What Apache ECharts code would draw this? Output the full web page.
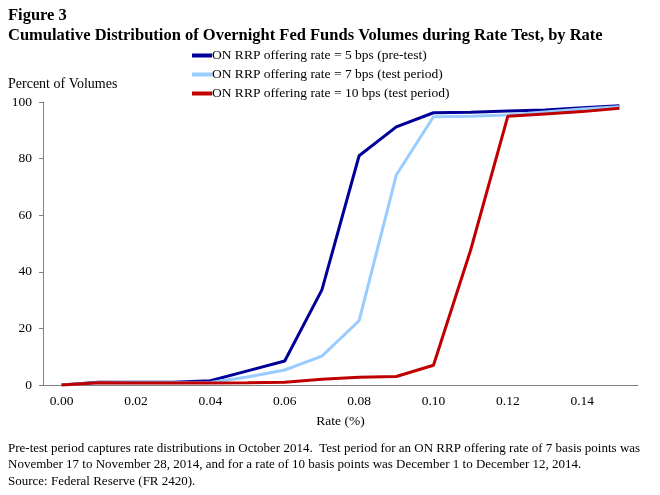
<!DOCTYPE html>
<html>
<head>
<meta charset="utf-8">
<script src="https://cdn.jsdelivr.net/npm/echarts@6/dist/echarts.min.js"></script>
<style>html,body{margin:0;padding:0;background:#fff;}#c{width:660px;height:495px;}</style>
</head>
<body>
<div id="c"></div>
<script>
const categories = ['0.00','0.01','0.02','0.03','0.04','0.05','0.06','0.07','0.08','0.09','0.10','0.11','0.12','0.13','0.14','0.15'];
const seriesNames = ['ON RRP offering rate = 5 bps (pre-test)','ON RRP offering rate = 7 bps (test period)','ON RRP offering rate = 10 bps (test period)'];
const rate5 = [0, 1, 1, 1, 1.5, 5, 8.5, 33.6, 81, 91.2, 96.2, 96.4, 96.8, 97.2, 98, 98.7];
const rate7 = [0, 0.8, 0.8, 0.8, 0.9, 2.8, 5.3, 10.2, 22.7, 74.2, 94.8, 95, 95.4, 96.5, 97.5, 98.3];
const rate10 = [0, 0.8, 0.7, 0.7, 0.7, 0.8, 1, 2, 2.7, 3, 7, 47.7, 95, 95.8, 96.6, 97.8];
const colors = ['#000099', '#99CCFF', '#C00000'];

const font = 'Liberation Serif, Times New Roman, serif';
const chart = echarts.init(document.getElementById('c'), null, {renderer: 'canvas'});
chart.setOption({
  animation: false,
  backgroundColor: '#fff',
  textStyle: {fontFamily: font},
  grid: {left: 43, right: 22, top: 102, bottom: 110, containLabel: false},
  legend: {
    orient: 'vertical', left: 187, top: 43,
    icon: 'rect', itemWidth: 20, itemHeight: 4, itemGap: 4,
    textStyle: {fontFamily: font, fontSize: 13.5, color: '#000', padding: [0,0,0,-5], lineHeight: 15},
    data: seriesNames
  },
  xAxis: {
    type: 'category', data: categories, boundaryGap: true,
    name: 'Rate (%)', nameLocation: 'middle', nameGap: 29,
    nameTextStyle: {fontFamily: font, fontSize: 13.5, color: '#000'},
    axisLine: {lineStyle: {color: '#808080', width: 1}},
    axisTick: {interval: 0, length: 5, lineStyle: {color: '#808080'}},
    axisLabel: {interval: 1, fontFamily: font, fontSize: 13.5, color: '#000', margin: 9},
    splitLine: {show: false}
  },
  yAxis: {
    type: 'value', min: 0, max: 100, interval: 20,
    axisLine: {show: true, lineStyle: {color: '#808080', width: 1}},
    axisTick: {show: true, length: 4, lineStyle: {color: '#808080'}},
    axisLabel: {fontFamily: font, fontSize: 13.5, color: '#000', margin: 11},
    splitLine: {show: false}
  },
  series: [
    {name: seriesNames[0], type: 'line', data: rate5, symbol: 'none', lineStyle: {width: 3, color: colors[0]}, itemStyle: {color: colors[0]}},
    {name: seriesNames[1], type: 'line', data: rate7, symbol: 'none', lineStyle: {width: 3, color: colors[1]}, itemStyle: {color: colors[1]}},
    {name: seriesNames[2], type: 'line', data: rate10, symbol: 'none', lineStyle: {width: 3, color: colors[2]}, itemStyle: {color: colors[2]}}
  ],
  graphic: [
    {type: 'text', left: 8, top: 7, style: {text: 'Figure 3', font: 'bold 16.5px ' + font, fill: '#000'}},
    {type: 'text', left: 8, top: 27, style: {text: 'Cumulative Distribution of Overnight Fed Funds Volumes during Rate Test, by Rate', font: 'bold 16.5px ' + font, fill: '#000'}},
    {type: 'text', left: 8, top: 77, style: {text: 'Percent of Volumes', font: '14px ' + font, fill: '#000'}},
    {type: 'text', left: 8, top: 440, style: {text: 'Pre-test period captures rate distributions in October 2014.  Test period for an ON RRP offering rate of 7 basis points was\nNovember 17 to November 28, 2014, and for a rate of 10 basis points was December 1 to December 12, 2014.\nSource: Federal Reserve (FR 2420).', font: '13px ' + font, fill: '#000', lineHeight: 16.5}}
  ]
});
</script>
</body>
</html>
